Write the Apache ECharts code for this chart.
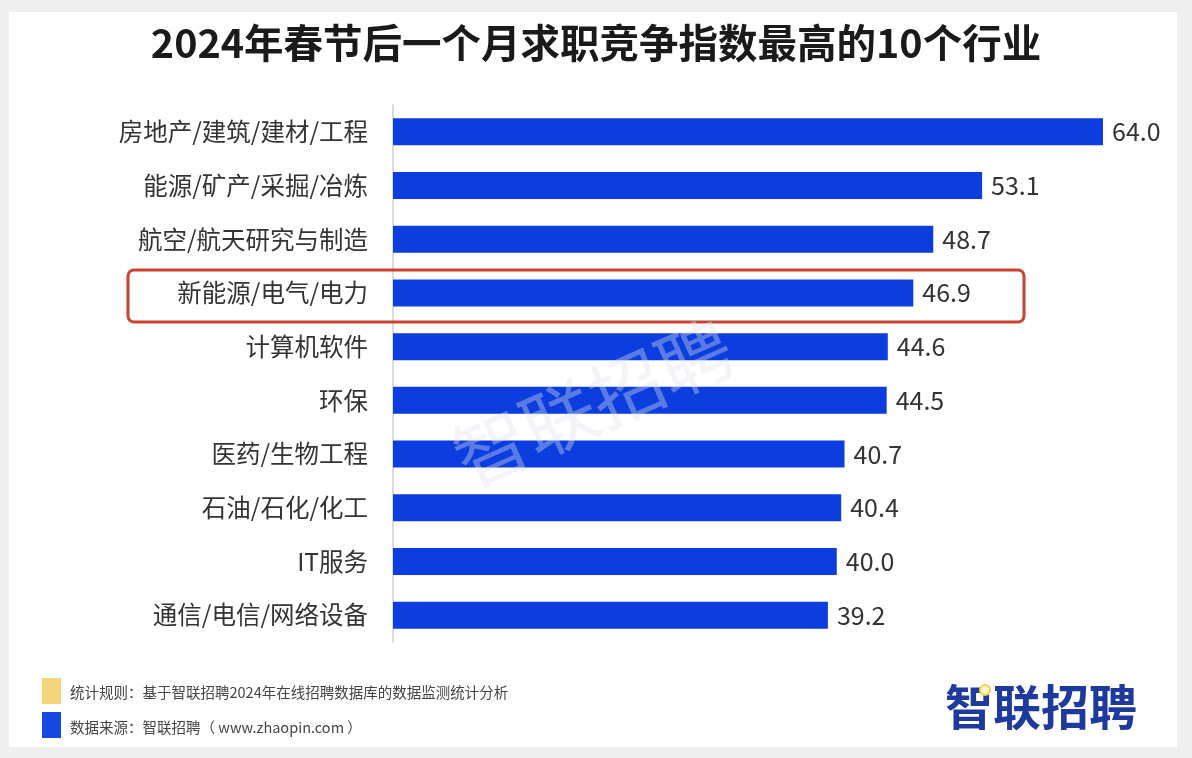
<!DOCTYPE html>
<html>
<head>
<meta charset="utf-8">
<script src="https://cdn.jsdelivr.net/npm/echarts@6/dist/echarts.min.js"></script>
<style>
html,body{margin:0;padding:0;background:#efefef;}
#main{width:1192px;height:758px;}
</style>
</head>
<body>
<div id="main"></div>
<script>
var titleText = '2024年春节后一个月求职竞争指数最高的10个行业';
var categories = ['房地产/建筑/建材/工程','能源/矿产/采掘/冶炼','航空/航天研究与制造','新能源/电气/电力','计算机软件','环保','医药/生物工程','石油/石化/化工','IT服务','通信/电信/网络设备'];
var values = [64.0, 53.1, 48.7, 46.9, 44.6, 44.5, 40.7, 40.4, 40.0, 39.2];
var noteRule = '统计规则：基于智联招聘2024年在线招聘数据库的数据监测统计分析';
var noteSource = '数据来源：智联招聘（ www.zhaopin.com ）';
var brand = '智联招聘';

var FONT = '"Noto Sans CJK SC","Noto Sans",sans-serif';
var chart = echarts.init(document.getElementById('main'));
chart.setOption({
  backgroundColor: '#efefef',
  animation: false,
  title: {
    text: titleText, left: 'center', top: 18,
    textStyle: {fontFamily: FONT, fontSize: 39.5, fontWeight: 'bold', color: '#1a1a1a'}
  },
  grid: {left: 393, right: 89, top: 105, bottom: 116},
  xAxis: {type: 'value', min: 0, max: 64, show: false, splitLine: {show: false}},
  yAxis: {
    type: 'category', data: categories, inverse: true,
    axisLine: {show: true, lineStyle: {color: '#cfcfcf', width: 1.5}},
    axisTick: {show: false},
    axisLabel: {fontFamily: FONT, fontSize: 24.5, color: '#333', margin: 25}
  },
  series: [{
    type: 'bar', data: values, barWidth: 27, z: 3,
    itemStyle: {color: '#0c3ddf'},
    label: {show: true, position: 'right', distance: 9, fontFamily: FONT, fontSize: 25, color: '#333',
      formatter: function(p){ return p.value.toFixed(1); }}
  }],
  graphic: [
    {type: 'rect', z: -10, shape: {x: 9, y: 12, width: 1168, height: 735}, style: {fill: '#ffffff'}},
    {type: 'rect', z: 10, shape: {x: 128, y: 270, width: 896, height: 52, r: 6}, style: {fill: 'none', stroke: '#c8432f', lineWidth: 3}},
    {type: 'text', z: 20, x: 593, y: 403, rotation: 24 * Math.PI / 180,
      style: {text: brand, fontFamily: FONT, fontSize: 74, fontWeight: 'normal', fill: 'rgba(222,226,236,0.38)', textAlign: 'center', textVerticalAlign: 'middle'}},
    {type: 'rect', z: 10, shape: {x: 42, y: 678, width: 19, height: 26}, style: {fill: '#f4d57a'}},
    {type: 'rect', z: 10, shape: {x: 42, y: 712, width: 19, height: 26}, style: {fill: '#1846e0'}},
    {type: 'text', z: 10, x: 70, y: 692, style: {text: noteRule, fontFamily: FONT, fontSize: 14.5, fill: '#444', textVerticalAlign: 'middle'}},
    {type: 'text', z: 10, x: 70, y: 727, style: {text: noteSource, fontFamily: FONT, fontSize: 14.5, fill: '#444', textVerticalAlign: 'middle'}},
    {type: 'text', z: 10, x: 1041, y: 707, style: {text: brand, fontFamily: FONT, fontSize: 48, fontWeight: 'bold', fill: '#1e3a9e', textAlign: 'center', textVerticalAlign: 'middle'}},
    {type: 'circle', z: 11, shape: {cx: 985, cy: 690, r: 5}, style: {fill: '#fff6c8', stroke: '#f2cf4a', lineWidth: 2}}
  ]
});
</script>
</body>
</html>
